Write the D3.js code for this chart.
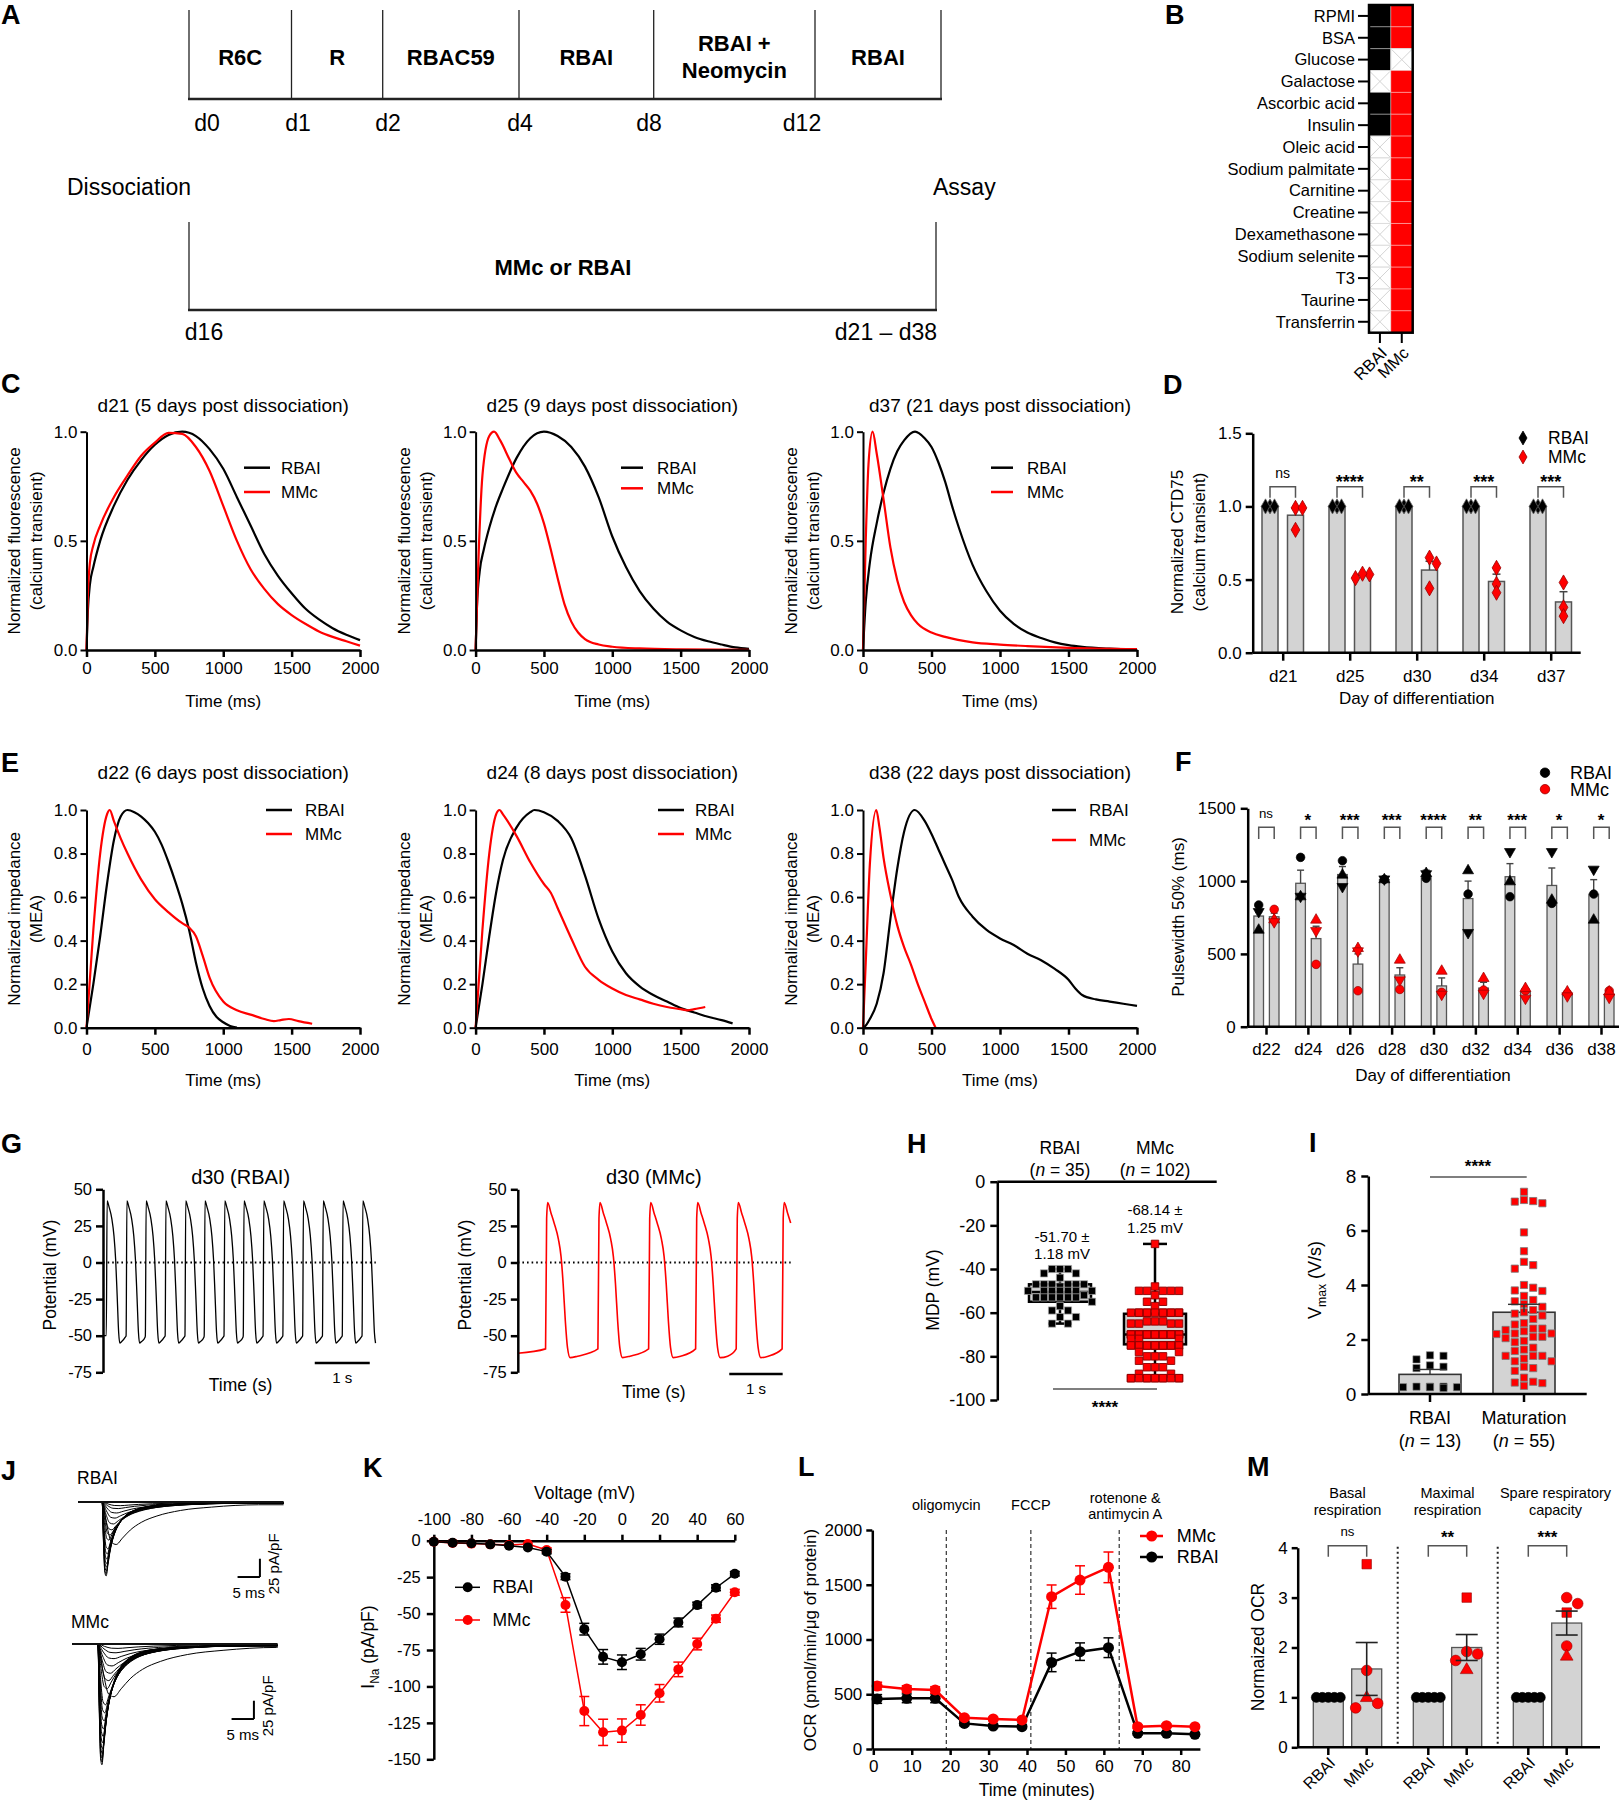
<!DOCTYPE html>
<html><head><meta charset="utf-8">
<script src="https://cdn.jsdelivr.net/npm/d3@7/dist/d3.min.js"></script>
<style>html,body{margin:0;padding:0;background:#fff}</style>
</head><body>
<svg id="fig" width="1620" height="1800" xmlns="http://www.w3.org/2000/svg"></svg>
<script>
// ======================= DATA =======================
// Panel A
const aStages = [['R6C'],['R'],['RBAC59'],['RBAI'],['RBAI +','Neomycin'],['RBAI']];
const aStageDays = ['d0','d1','d2','d4','d8','d12'];
const aPhases = ['Dissociation','Assay'];
const aPostMedium = 'MMc or RBAI';
const aPostDays = ['d16','d21 – d38'];

// Panel B
const bComponents = ['RPMI','BSA','Glucose','Galactose','Ascorbic acid','Insulin','Oleic acid','Sodium palmitate','Carnitine','Creatine','Dexamethasone','Sodium selenite','T3','Taurine','Transferrin'];
const bMedia = ['RBAI','MMc'];
const bInRBAI = [1,1,1,0,1,1,0,0,0,0,0,0,0,0,0];
const bInMMc  = [1,1,0,1,1,1,1,1,1,1,1,1,1,1,1];

// Shared
const seriesNames = ['RBAI','MMc'];
const traceXTicks = [0,500,1000,1500,2000];

// Panel C (calcium transients)
const cTitles = ['d21 (5 days post dissociation)','d25 (9 days post dissociation)','d37 (21 days post dissociation)'];
const cYLabel = ['Normalized fluorescence','(calcium transient)'];
const cYTicks = [0,0.5,1];
const cD21Time = [0,10,25,50,100,200,300,400,500,600,700,800,900,1000,1100,1200,1300,1400,1500,1600,1700,1800,1900,2000];
const cD21RBAI = [0,0.18,0.3,0.38,0.5,0.66,0.78,0.87,0.94,0.985,1.0,0.98,0.92,0.83,0.7,0.57,0.44,0.34,0.26,0.19,0.14,0.1,0.07,0.045];
const cD21MMc  = [0,0.25,0.4,0.48,0.57,0.7,0.8,0.89,0.95,0.995,0.99,0.93,0.82,0.66,0.5,0.37,0.28,0.21,0.16,0.12,0.085,0.06,0.04,0.02];
const cD25RBAITime = [0,10,30,60,100,150,200,300,400,500,600,700,800,900,1000,1100,1200,1300,1400,1500,1600,1700,1800,1900,2000];
const cD25RBAI = [0,0.2,0.36,0.46,0.56,0.66,0.74,0.88,0.97,1.0,0.98,0.93,0.84,0.7,0.52,0.38,0.27,0.19,0.13,0.09,0.06,0.04,0.025,0.012,0.005];
const cD25MMcTime = [0,20,50,100,135,180,250,300,350,400,450,500,550,600,650,700,750,800,900,1000,1200,1500,2000];
const cD25MMc = [0,0.4,0.8,0.98,1.0,0.96,0.87,0.81,0.77,0.73,0.67,0.58,0.46,0.33,0.21,0.13,0.08,0.05,0.025,0.015,0.007,0.003,0.001];
const cD37RBAITime = [0,20,50,100,150,200,250,300,380,450,500,550,600,650,700,800,900,1000,1100,1200,1300,1400,1500,1600,1800,2000];
const cD37RBAI = [0,0.22,0.4,0.58,0.72,0.83,0.91,0.96,1.0,0.97,0.93,0.86,0.77,0.66,0.56,0.39,0.27,0.18,0.12,0.08,0.055,0.035,0.022,0.014,0.006,0.002];
const cD37MMcTime = [0,20,40,70,100,150,200,250,300,350,400,500,600,800,1000,1200,1500,2000];
const cD37MMc = [0,0.5,0.85,1.0,0.9,0.69,0.47,0.32,0.22,0.16,0.12,0.08,0.06,0.035,0.025,0.018,0.01,0.004];

// Panel D
const dDays = ['d21','d25','d30','d34','d37'];
const dRBAIMean = [1,1,1,1,1];
const dMMcMean = [0.94,0.53,0.565,0.487,0.347];
const dMMcSEM = [0.05,0.01,0.06,0.05,0.07];
const dRBAIPts = [[1,1,1],[1,1,1],[1,1,1],[1,1,1],[1,1,1]];
const dMMcPts = [[0.99,0.99,0.84],[0.51,0.535,0.54],[0.65,0.61,0.44],[0.58,0.47,0.41],[0.48,0.31,0.25]];
const dSig = ['ns','****','**','***','***'];

// Panel E (impedance)
const eTitles = ['d22 (6 days post dissociation)','d24 (8 days post dissociation)','d38 (22 days post dissociation)'];
const eYLabel = ['Normalized impedance','(MEA)'];
const eYTicks = [0,0.2,0.4,0.6,0.8,1];
const eD22RBAITime = [0,50,100,150,200,250,300,350,400,450,500,550,600,650,700,750,800,850,900,950,1000,1050,1100];
const eD22RBAI = [0,0.2,0.42,0.66,0.86,0.97,1.0,0.99,0.97,0.94,0.9,0.84,0.76,0.67,0.57,0.45,0.3,0.18,0.1,0.05,0.025,0.008,0];
const eD22MMcTime = [0,50,100,150,170,200,250,300,400,500,600,700,750,800,850,900,1000,1100,1200,1300,1370,1420,1480,1550,1650];
const eD22MMc = [0,0.45,0.8,0.98,1.0,0.95,0.87,0.8,0.68,0.59,0.53,0.48,0.46,0.42,0.33,0.23,0.12,0.08,0.06,0.04,0.03,0.035,0.04,0.03,0.018];
const eD24RBAITime = [0,50,100,150,200,300,400,430,500,600,700,800,900,1000,1100,1200,1300,1400,1500,1600,1700,1800,1880];
const eD24RBAI = [0,0.2,0.42,0.62,0.77,0.92,0.99,1.0,0.99,0.95,0.87,0.7,0.5,0.35,0.25,0.19,0.15,0.12,0.09,0.07,0.05,0.035,0.02];
const eD24MMcTime = [0,50,100,150,175,200,300,400,500,550,600,700,800,900,1000,1100,1200,1300,1400,1500,1550,1600,1680];
const eD24MMc = [0,0.45,0.8,0.98,1.0,0.98,0.88,0.76,0.66,0.62,0.55,0.41,0.28,0.22,0.18,0.15,0.13,0.11,0.095,0.085,0.08,0.085,0.095];
const eD38RBAITime = [0,20,50,100,150,200,250,300,378,450,500,550,600,650,700,800,900,1000,1100,1200,1300,1400,1500,1550,1600,1700,1800,1900,2000];
const eD38RBAI = [0,0.01,0.04,0.11,0.25,0.5,0.73,0.9,1.0,0.95,0.89,0.82,0.75,0.68,0.6,0.51,0.45,0.41,0.38,0.34,0.31,0.27,0.22,0.18,0.15,0.13,0.12,0.11,0.1];
const eD38MMcTime = [0,20,50,97,120,150,200,250,300,350,400,450,500,530];
const eD38MMc = [0,0.3,0.75,1.0,0.92,0.78,0.61,0.47,0.37,0.29,0.2,0.12,0.04,0];

// Panel F
const fDays = ['d22','d24','d26','d28','d30','d32','d34','d36','d38'];
const fRBAIMean = [760,985,1045,1010,1030,880,1030,970,910];
const fRBAISEM = [25,90,55,8,45,120,90,120,100];
const fMMcMean = [755,605,430,355,280,265,240,228,222];
const fMMcSEM = [25,85,70,50,55,40,15,8,12];
const fShapes = ['circle','triangle','tridown'];
const fRBAIPts = [[836,664,790],[1163,893,895],[1140,1042,962],[1012,1010,1014],[1019,1053,1050],[911,1072,646],[893,996,1202],[847,870,1202],[911,733,1081]];
const fMMcPts = [[806,735,720],[428,733,659],[247,538,520],[256,458,321],[236,382,222],[252,332,229],[247,263,195],[229,240,211],[247,240,201]];
const fSig = ['ns','*','***','***','****','**','***','*','*'];

// Panel G (action potentials)
const gTitles = ['d30 (RBAI)','d30 (MMc)'];
const gYTicks = [-75,-50,-25,0,25,50];
const gRBAIBeats = [0.06,0.42,0.77,1.13,1.49,1.84,2.2,2.55,2.91,3.27,3.63,3.99,4.35,4.71];
const gRBAIShapeT = [0,0.015,0.05,0.1,0.14,0.17,0.2,0.225,0.245,0.28,0.345];
const gRBAIShapeV = [-50,42,38,30,18,2,-25,-48,-55,-54,-51];
const gRBAIRecord = [0,4.96,-50];
const gMMcBeats = [0.52,1.5,2.45,3.33,4.09,4.95];
const gMMcShapeT = [0,0.02,0.04,0.1,0.16,0.24,0.29,0.33,0.37,0.41,0.46,0.6];
const gMMcShapeV = [-59,30,41,34,27,16,4,-15,-40,-58,-65,-64];
const gMMcRecord = [0,5.11,-62];

// Panel H
const hGroups = ['RBAI','MMc'];
const hN = [35,102];
const hRBAI = [-40,-40,-40,-42,-42,-44,-47,-47,-47,-47,-47,-47,-48,-50,-50,-50,-50,-50,-50,-50,-52,-53,-53,-53,-53,-53,-53,-55,-57,-59,-59,-62,-62,-65,-65];
const hMMc = [-28.5,-48,-50,-50,-50,-50,-50,-52,-55,-55,-57,
  -60,-60,-60,-60,-60,-60,-60,-60,-60,-60,-60,-60,-64,-64,-64,-65,-65,-65,-65,
  -70,-70,-70,-70,-70,-70,-70,-70,-70,-70,-70,-70,-70,-70,-70,-70,-70,-70,-70,-70,-70,-70,-70,-70,-70,-72,-72,-72,
  -75,-75,-75,-75,-75,-75,-75,-75,-75,-75,-75,-75,-75,-75,-75,-75,-75,-75,-75,-75,
  -78,-78,-80,-80,-80,-82,-82,-85,-85,-85,-88,-88,
  -90,-90,-90,-90,-90,-90,-90,-90,-90,-90,-90,-90];
const hBoxRBAI = [-65,-55,-50.5,-47,-40];
const hBoxMMc = [-90,-74.5,-70,-60.5,-28.5];
const hMeanText = [['-51.70 ±','1.18 mV'],['-68.14 ±','1.25 mV']];
const hYTicks = [-100,-80,-60,-40,-20,0];

// Panel I
const iGroups = ['RBAI','Maturation'];
const iN = [13,55];
const iMean = [0.72,3.0];
const iSEM = [0.18,0.29];
const iRBAI = [1.4,1.42,1.27,1.0,0.95,1.05,0.25,0.27,0.27,0.27,0.25,0.22,0.25];
const iMat = [7.42,7.12,7.08,7.06,7.0,5.93,5.24,4.85,4.73,4.6,4.0,3.9,3.8,3.78,3.6,3.45,3.4,3.3,3.2,3.08,3.0,2.95,2.88,2.75,2.6,
  2.55,2.4,2.4,2.35,2.3,2.22,2.22,2.2,2.1,2.1,2.05,1.95,1.9,1.7,1.63,1.58,1.4,1.4,1.4,1.3,1.2,1.2,1.0,0.95,0.85,0.6,0.45,0.42,0.4,0.3];
const iYTicks = [0,2,4,6,8];

// Panel J (Na current families)
const jShapeT = [0,0.3,0.6,0.9,1.3,1.8,2.5,3.5,5,7,10,14,20,28,40];
const jShapeV = [0,0.55,0.95,1.0,0.85,0.66,0.48,0.33,0.2,0.12,0.065,0.04,0.025,0.016,0.012];
const jRBAIPeaks = [101,98,94,89,84,78,71,64,58,52,45,38,30,22,15,9,5];
const jRBAIWidth = [1.0,1.0,1.05,1.1,1.15,1.2,1.3,1.45,3.5,1.7,2.0,2.4,2.8,3.2,3.6,4.0,4.5];
const jMMcPeaks = [165,161,156,150,143,135,126,116,105,94,83,72,61,50,40,30,20,12,6];
const jMMcWidth = [1.0,1.0,1.05,1.1,1.15,1.2,1.3,1.4,1.55,1.7,1.9,4.0,2.3,2.7,3.1,3.5,4.0,4.5,5.0];
const jOnset = [5.4,5.8];

// Panel K (I-V)
const kVolt = [-100,-90,-80,-70,-60,-50,-40,-30,-20,-10,0,10,20,30,40,50,60];
const kRBAI = [-0.7,-1.4,-1.8,-2.5,-3.4,-4.6,-7.5,-24.7,-60.7,-79.7,-83.4,-77.9,-67.6,-56.1,-44.2,-32.3,-22.7];
const kRBAIErr = [0.5,0.5,0.5,0.5,0.8,1,1.5,2,4,5,5,4,3.5,3,2,2,1.5];
const kMMc = [-0.7,-1.5,-2,-2.5,-3,-2.3,-6.4,-44.1,-116.9,-131.5,-130.3,-119.6,-104.7,-88.3,-70.9,-53.5,-35.4];
const kMMcErr = [0.5,0.5,0.5,0.5,0.5,1,1.5,5,10,9,8,7,6,5,4,2.5,2];
const kXTicks = [-100,-80,-60,-40,-20,0,20,40,60];
const kYTicks = [-150,-125,-100,-75,-50,-25,0];

// Panel L (Seahorse OCR)
const lTime = [1.0,8.7,16.1,23.7,31.2,38.7,46.4,53.8,61.2,68.8,76.3,83.7];
const lMMc = [575,548,539,286,274,265,1391,1543,1659,204,213,204];
const lMMcErr = [35,30,30,15,15,15,107,130,140,15,15,15];
const lRBAI = [457,463,463,234,210,204,791,889,925,143,143,134];
const lRBAIErr = [40,40,40,20,15,15,85,80,90,15,15,15];
const lInjections = [19,41,64];
const lInjLabels = [['oligomycin'],['FCCP'],['rotenone &','antimycin A']];
const lXTicks = [0,10,20,30,40,50,60,70,80];
const lYTicks = [0,500,1000,1500,2000];

// Panel M
const mMeasures = [['Basal','respiration'],['Maximal','respiration'],['Spare respiratory','capacity']];
const mRBAIMean = [1,1,1];
const mRBAIPts = [[1,1,1,1,1],[1,1,1,1,1],[1,1,1,1,1]];
const mMMcMean = [1.57,2.0,2.49];
const mMMcSEM = [0.53,0.26,0.24];
const mMMcPts = [[3.67,1.54,0.99,0.79,0.88],[3.0,1.87,1.92,1.74,1.55],[3.0,2.88,2.7,2.03,1.82]];
const mMMcShapes = [['square','circle','triangle','circle','circle'],['square','circle','circle','circle','triangle'],['circle','circle','square','circle','triangle']];
const mSig = ['ns','**','***'];
const mYTicks = [0,1,2,3,4];

// ======================= DRAWING =======================
const FONT = "'Liberation Sans', Arial, Helvetica, sans-serif";
const RED = '#ff0000', BAR = '#d3d3d3';
const fmtPlain = d => String(d);
const svg = d3.select('#fig').attr('font-family', FONT);
svg.append('rect').attr('width',1620).attr('height',1800).attr('fill','#fff');

function T(g,x,y,s,size,o={}){
  const t=g.append('text').attr('x',x).attr('y',y+0.35*size).attr('font-size',size)
    .attr('text-anchor',o.anchor||'middle').attr('fill',o.fill||'#000').text(s);
  if(o.bold) t.attr('font-weight','bold');
  if(o.rot) t.attr('transform',`rotate(${o.rot},${x},${y})`);
  return t;
}
function S(g,x,y,s,size){
  if(s==='ns') return T(g,x,y,s,size*0.78);
  return g.append('text').attr('x',x).attr('y',y+0.6*size).attr('font-size',size).attr('font-weight','bold').attr('text-anchor','middle').text(s);
}
function nLabel(g,x,y,n,size){
  const t=g.append('text').attr('x',x).attr('y',y+0.35*size).attr('font-size',size).attr('text-anchor','middle');
  t.append('tspan').text('(');
  t.append('tspan').attr('font-style','italic').text('n');
  t.append('tspan').text(` = ${n})`);
}
function subLabel(g,x,y,main,sub,rest,size,rot){
  const t=g.append('text').attr('x',x).attr('y',y+0.35*size).attr('font-size',size).attr('text-anchor','middle');
  if(rot) t.attr('transform',`rotate(${rot},${x},${y})`);
  t.append('tspan').text(main);
  t.append('tspan').attr('font-size',size*0.68).attr('dy',size*0.28).text(sub);
  t.append('tspan').attr('dy',-size*0.28).text(rest);
}
function axis(g,gen,tx,ty,size,sw){
  const a=g.append('g').attr('transform',`translate(${tx},${ty})`).call(gen);
  a.attr('font-family',FONT).attr('font-size',size);
  a.selectAll('path.domain').attr('stroke','#000').attr('stroke-width',sw);
  a.selectAll('.tick line').attr('stroke','#000').attr('stroke-width',sw);
  a.selectAll('.tick text').attr('fill','#000');
  return a;
}
function line(g,x1,y1,x2,y2,col,w,dash){
  const l=g.append('line').attr('x1',x1).attr('y1',y1).attr('x2',x2).attr('y2',y2).attr('stroke',col).attr('stroke-width',w);
  if(dash) l.attr('stroke-dasharray',dash);
  return l;
}
function pathLine(g,xs,ys,x,y,col,w,curve){
  g.append('path').datum(xs.map((t,i)=>[t,ys[i]])).attr('fill','none').attr('stroke',col).attr('stroke-width',w)
    .attr('stroke-linejoin','round').attr('d',d3.line().x(d=>x(d[0])).y(d=>y(d[1])).curve(curve||d3.curveMonotoneX));
}
function symPath(type,size){
  const map={circle:d3.symbolCircle,square:d3.symbolSquare,triangle:d3.symbolTriangle,tridown:d3.symbolTriangle,diamond:d3.symbolDiamond};
  return d3.symbol(map[type],size)();
}
function mark(g,type,x,y,size,fill,stroke,sw){
  const p=g.append('path').attr('d',symPath(type,size)).attr('fill',fill).attr('stroke',stroke).attr('stroke-width',sw||0.8);
  p.attr('transform',`translate(${x},${y})`+(type==='tridown'?' rotate(180)':''));
  return p;
}
// deterministic dot-plot layout (dodge into fixed columns)
function swarm(values,yS,cx,dx,minDy,maxK){
  const pts=values.map((v,i)=>({v,i,y:yS(v)})).sort((a,b)=>a.y-b.y||a.i-b.i);
  const placed=[];
  const offs=[0];
  for(let k=1;k<=maxK;k++){offs.push(k);offs.push(-k);}
  pts.forEach(p=>{
    let best=null,bestC=1e9;
    for(const o of offs){
      const x=cx+o*dx;
      const c=placed.filter(q=>Math.abs(q.x-x)<dx*0.9&&Math.abs(q.y-p.y)<minDy).length;
      if(c<bestC){bestC=c;best=x;}
      if(c===0)break;
    }
    p.x=best;placed.push(p);
  });
  return pts.sort((a,b)=>a.i-b.i);
}
function bracket(g,x1,x2,yTop,yBot){
  g.append('path').attr('d',`M${x1},${yBot}V${yTop}H${x2}V${yBot}`).attr('fill','none').attr('stroke','#555').attr('stroke-width',1.5);
}

// ---------- Panel letters ----------
const letterPos = {A:[1,15],B:[1165,15],C:[1,384],D:[1163,385],E:[1,763],F:[1175,762],G:[1,1144],H:[907,1144],I:[1309,1143],J:[1,1471],K:[363,1468],L:[798,1467],M:[1247,1467]};
Object.entries(letterPos).forEach(([k,p])=>T(svg,p[0],p[1],k,27,{bold:true,anchor:'start'}));

// ---------- Panel A ----------
(function(){
  const g=svg.append('g');
  const edges=[189,291.5,382.7,519,653.7,815,941];
  const dayX=[207,298,388,520,649,802];
  edges.forEach(x=>line(g,x,10,x,99,'#222',1.3));
  line(g,188,99,942,99,'#222',2.6);
  aStages.forEach((lab,i)=>{
    const cx=(edges[i]+edges[i+1])/2;
    if(lab.length===1) T(g,cx,57,lab[0],22,{bold:true});
    else {T(g,cx,43,lab[0],22,{bold:true});T(g,cx,70,lab[1],22,{bold:true});}
  });
  aStageDays.forEach((d,i)=>T(g,dayX[i],123,d,23));
  T(g,129,187,aPhases[0],23);
  T(g,933,187,aPhases[1],23,{anchor:'start'});
  line(g,189,222,189,310,'#222',1.3);
  line(g,936,222,936,310,'#222',1.3);
  line(g,188,310,937,310,'#222',2.6);
  T(g,563,267,aPostMedium,22,{bold:true});
  T(g,204,332,aPostDays[0],23);
  T(g,886,332,aPostDays[1],23);
})();

// ---------- Panel B ----------
(function(){
  const g=svg.append('g');
  const y=d3.scaleBand().domain(bComponents).range([5,332.7]);
  const x=d3.scaleBand().domain(bMedia).range([1369,1412.7]);
  const bw=x.bandwidth(), bh=y.bandwidth();
  bComponents.forEach((c,i)=>{
    bMedia.forEach((m,j)=>{
      const on=(j===0?bInRBAI:bInMMc)[i];
      const x0=x(m), y0=y(c);
      g.append('rect').attr('x',x0).attr('y',y0).attr('width',bw).attr('height',bh)
        .attr('fill',on?(j===0?'#000':RED):'#fff').attr('stroke',on?'rgba(255,255,255,0.35)':'#ddd').attr('stroke-width',1);
      if(!on){
        line(g,x0+1,y0+1,x0+bw-1,y0+bh-1,'#d4d4d4',1);
        line(g,x0+bw-1,y0+1,x0+1,y0+bh-1,'#d4d4d4',1);
      }
    });
    line(g,1358,y(c)+bh/2,1369,y(c)+bh/2,'#000',2);
    T(g,1355,y(c)+bh/2,c,16.5,{anchor:'end'});
  });
  g.append('rect').attr('x',1369).attr('y',5).attr('width',43.7).attr('height',327.7).attr('fill','none').attr('stroke','#000').attr('stroke-width',2.5);
  bMedia.forEach(m=>{
    const cx=x(m)+bw/2;
    line(g,cx,333,cx,343,'#000',2);
    T(g,cx+4,350,m,16.5,{anchor:'end',rot:-45});
  });
})();

// ---------- Panels C & E ----------
function tracePanel(c){
  const g=svg.append('g');
  const x=d3.scaleLinear().domain([0,2000]).range([c.x0,c.x1]);
  const y=d3.scaleLinear().domain([0,1]).range([c.yBot,c.yTop]);
  c.series.forEach(s=>pathLine(g,s.t,s.v,x,y,s.color,2.2));
  axis(g,d3.axisBottom(x).tickValues(traceXTicks).tickFormat(fmtPlain).tickSize(7).tickSizeOuter(0).tickPadding(c.xPad),0,c.yBot,17,2.5);
  axis(g,d3.axisLeft(y).tickValues(c.yTicks).tickFormat(d3.format('.1f')).tickSize(6).tickSizeOuter(0).tickPadding(3),c.x0,0,17,2);
  const cx=(c.x0+c.x1)/2, cy=(c.yTop+c.yBot)/2;
  T(g,cx,c.titleY,c.title,19);
  T(g,c.x0-72,cy,c.ylab[0],17,{rot:-90});
  T(g,c.x0-50,cy,c.ylab[1],17,{rot:-90});
  T(g,cx,c.xlabY,'Time (ms)',17);
  c.series.forEach((s,i)=>{
    line(g,c.leg[0],c.legY[i],c.leg[1],c.legY[i],s.color,2.5);
    T(g,c.leg[2],c.legY[i],seriesNames[i],17,{anchor:'start'});
  });
}
const xs3=[[86.5,360],[475.6,749],[863,1137]];
const cSeries=[
  [{t:cD21Time,v:cD21RBAI,color:'#000'},{t:cD21Time,v:cD21MMc,color:RED}],
  [{t:cD25RBAITime,v:cD25RBAI,color:'#000'},{t:cD25MMcTime,v:cD25MMc,color:RED}],
  [{t:cD37RBAITime,v:cD37RBAI,color:'#000'},{t:cD37MMcTime,v:cD37MMc,color:RED}]];
const cLeg=[[244,270,281],[621,643,657],[991,1013,1027]];
const cLegY=[[467.7,492],[467.7,488.3],[467.7,492]];
cTitles.forEach((tt,i)=>tracePanel({x0:xs3[i][0],x1:xs3[i][1],yTop:431.7,yBot:650,yTicks:cYTicks,title:tt,titleY:405,
  ylab:cYLabel,xlabY:701,xPad:5,series:cSeries[i],leg:cLeg[i],legY:cLegY[i]}));
const eSeries=[
  [{t:eD22RBAITime,v:eD22RBAI,color:'#000'},{t:eD22MMcTime,v:eD22MMc,color:RED}],
  [{t:eD24RBAITime,v:eD24RBAI,color:'#000'},{t:eD24MMcTime,v:eD24MMc,color:RED}],
  [{t:eD38RBAITime,v:eD38RBAI,color:'#000'},{t:eD38MMcTime,v:eD38MMc,color:RED}]];
const eLeg=[[266,292,305],[658,684,695],[1052,1076,1089]];
const eLegY=[[810,834],[810,834],[810,840]];
eTitles.forEach((tt,i)=>tracePanel({x0:xs3[i][0],x1:xs3[i][1],yTop:810,yBot:1027.7,yTicks:eYTicks,title:tt,titleY:772,
  ylab:eYLabel,xlabY:1080,xPad:8,series:eSeries[i],leg:eLeg[i],legY:eLegY[i]}));

// ---------- Panel D ----------
(function(){
  const g=svg.append('g');
  const x=d3.scalePoint().domain(dDays).range([1282.7,1550.7]);
  const y=d3.scaleLinear().domain([0,1.5]).range([652.7,433.3]);
  const off=[-12.7,12.8], bw=16;
  [dRBAIMean,dMMcMean].forEach((means,s)=>{
    dDays.forEach((d,i)=>{
      const cx=x(d)+off[s];
      g.append('rect').attr('x',cx-bw/2).attr('width',bw).attr('y',y(means[i])).attr('height',y(0)-y(means[i]))
        .attr('fill',BAR).attr('stroke','#555').attr('stroke-width',1.5);
      if(s===1){
        line(g,cx,y(means[i]),cx,y(means[i]+dMMcSEM[i]),'#444',1.5);
        line(g,cx-4,y(means[i]+dMMcSEM[i]),cx+4,y(means[i]+dMMcSEM[i]),'#444',1.5);
      }
      const pts=(s===0?dRBAIPts:dMMcPts)[i];
      swarm(pts,y,cx,s===0?4.5:7,7,2).forEach(p=>mark(g,'diamond',p.x,p.y,66,s===0?'#000':RED,s===0?'#666':'#900',0.8));
    });
  });
  dDays.forEach((d,i)=>{
    bracket(g,x(d)+off[0],x(d)+off[1],486.7,497.7);
    S(g,x(d),dSig[i]==='ns'?473:477,dSig[i],18);
  });
  const ax=axis(g,d3.axisBottom(x).tickSize(8).tickPadding(9).tickSizeOuter(0),0,652.7,17,2.5);
  ax.select('path.domain').remove();
  line(g,1252.7,652.7,1580.7,652.7,'#000',2.5);
  axis(g,d3.axisLeft(y).tickValues([0,0.5,1,1.5]).tickFormat(d3.format('.1f')).tickSize(7).tickPadding(4).tickSizeOuter(0),1252.7,0,17,2.5);
  T(g,1416.7,698,'Day of differentiation',17);
  T(g,1177,542,'Normalized CTD75',17,{rot:-90});
  T(g,1199,542,'(calcium transient)',17,{rot:-90});
  seriesNames.forEach((n,i)=>{
    mark(g,'diamond',1523,438+i*19,55,i===0?'#000':RED,i===0?'#000':'#900',0.8);
    T(g,1548,438+i*19,n,17.5,{anchor:'start'});
  });
})();

// ---------- Panel F ----------
(function(){
  const g=svg.append('g');
  const x=d3.scalePoint().domain(fDays).range([1266,1601]);
  const y=d3.scaleLinear().domain([0,1500]).range([1026.7,808.3]);
  const off=[-7.3,8.2], bw=9.6;
  [[fRBAIMean,fRBAISEM,fRBAIPts],[fMMcMean,fMMcSEM,fMMcPts]].forEach(([m,e,pts],s)=>{
    fDays.forEach((d,i)=>{
      const cx=x(d)+off[s];
      g.append('rect').attr('x',cx-bw/2).attr('width',bw).attr('y',y(m[i])).attr('height',y(0)-y(m[i]))
        .attr('fill',BAR).attr('stroke','#555').attr('stroke-width',1.3);
      line(g,cx,y(m[i]),cx,y(m[i]+e[i]),'#444',1.4);
      line(g,cx-3.5,y(m[i]+e[i]),cx+3.5,y(m[i]+e[i]),'#444',1.4);
      pts[i].forEach((v,k)=>mark(g,fShapes[k],cx,y(v),k===0?58:52,s===0?'#000':RED,s===0?'#000':'#900',0.7));
    });
  });
  fDays.forEach((d,i)=>{
    bracket(g,x(d)+off[0],x(d)+off[1],827.3,839);
    S(g,x(d),fSig[i]==='ns'?813:816,fSig[i],17);
  });
  const ax=axis(g,d3.axisBottom(x).tickSize(8).tickPadding(8).tickSizeOuter(0),0,1026.7,17,2.5);
  ax.select('path.domain').remove();
  line(g,1247.7,1026.7,1619,1026.7,'#000',2.5);
  axis(g,d3.axisLeft(y).tickValues([0,500,1000,1500]).tickFormat(fmtPlain).tickSize(7).tickPadding(5).tickSizeOuter(0),1247.7,0,17,2.5);
  T(g,1433,1075,'Day of differentiation',17);
  T(g,1178,917,'Pulsewidth 50% (ms)',17,{rot:-90});
  seriesNames.forEach((n,i)=>{
    mark(g,'circle',1545,772.7+i*16.5,70,i===0?'#000':RED,i===0?'#000':'#900',0.8);
    T(g,1570,772.7+i*16.5,n,18,{anchor:'start'});
  });
})();

// ---------- Panel G ----------
function buildAP(beats,shT,shV,rec){
  const pts=[[rec[0],rec[2]]];
  beats.forEach((b,i)=>{
    const next=i<beats.length-1?beats[i+1]:Infinity;
    shT.forEach((dt,k)=>{const t=b+dt; if(t<next-1e-6&&t<=rec[1]) pts.push([t,shV[k]]);});
  });
  return pts;
}
function apPanel(c){
  const g=svg.append('g');
  const x=d3.scaleLinear().domain([0,c.rec[1]]).range([c.x0,c.x0+c.rec[1]*c.pxs]);
  const y=d3.scaleLinear().domain([-75,50]).range([1372.3,1189.3]);
  line(g,c.x0,y(0),x(c.rec[1]),y(0),'#000',2,'1.6,3');
  const pts=buildAP(c.beats,c.shT,c.shV,c.rec);
  g.append('path').datum(pts).attr('fill','none').attr('stroke',c.color).attr('stroke-width',c.sw)
    .attr('d',d3.line().x(d=>x(d[0])).y(d=>y(d[1])).curve(d3.curveMonotoneX));
  axis(g,d3.axisLeft(y).tickValues(gYTicks).tickFormat(fmtPlain).tickSize(7).tickPadding(4).tickSizeOuter(0),c.x0,0,16.5,2.5);
  T(g,c.titleX,1177,c.title,20);
  T(g,c.x0-53,1275,'Potential (mV)',17.5,{rot:-90});
  T(g,c.titleX,c.timeY,'Time (s)',17.5);
  line(g,x(c.bar),c.barY,x(c.bar+1),c.barY,'#000',2.5);
  T(g,(x(c.bar)+x(c.bar+1))/2,c.barY+15,'1 s',15);
}
apPanel({x0:103,pxs:55,rec:gRBAIRecord,beats:gRBAIBeats,shT:gRBAIShapeT,shV:gRBAIShapeV,color:'#000',sw:1.3,title:gTitles[0],titleX:240.6,timeY:1385,bar:3.85,barY:1363});
apPanel({x0:517.8,pxs:53.4,rec:gMMcRecord,beats:gMMcBeats,shT:gMMcShapeT,shV:gMMcShapeV,color:RED,sw:1.6,title:gTitles[1],titleX:653.8,timeY:1392,bar:3.96,barY:1374});

// ---------- Panel H ----------
(function(){
  const g=svg.append('g');
  const y=d3.scaleLinear().domain([-100,0]).range([1400,1181.7]);
  const centers=[1060,1155];
  [hBoxRBAI,hBoxMMc].forEach((b,i)=>{
    const cx=centers[i];
    line(g,cx,y(b[0]),cx,y(b[4]),'#000',2.5);
    line(g,cx-12,y(b[0]),cx+12,y(b[0]),'#000',2.5);
    line(g,cx-12,y(b[4]),cx+12,y(b[4]),'#000',2.5);
    g.append('rect').attr('x',cx-31).attr('width',62).attr('y',y(b[3])).attr('height',y(b[1])-y(b[3]))
      .attr('fill',BAR).attr('stroke','#000').attr('stroke-width',2.5);
    line(g,cx-31,y(b[2]),cx+31,y(b[2]),'#000',2.5);
  });
  swarm(hRBAI,y,centers[0],8,7,4).forEach(p=>mark(g,'square',p.x,p.y,52,'#000','#aaa',0.7));
  swarm(hMMc,y,centers[1],8,7,3).forEach(p=>mark(g,'square',p.x,p.y,56,RED,'#8b0000',0.9));
  axis(g,d3.axisLeft(y).tickValues(hYTicks).tickFormat(fmtPlain).tickSize(7).tickPadding(5).tickSizeOuter(0),997.3,0,18,2.5);
  line(g,997.3,y(0),1216.7,y(0),'#000',2.5);
  hGroups.forEach((n,i)=>{T(g,centers[i],1148,n,17.5); nLabel(g,centers[i],1170,hN[i],17.5);});
  T(g,1062,1237,hMeanText[0][0],15); T(g,1062,1254,hMeanText[0][1],15);
  T(g,1155,1210,hMeanText[1][0],15); T(g,1155,1228,hMeanText[1][1],15);
  line(g,1053,1389,1157,1389,'#555',1.3);
  S(g,1105,1403,'****',17);
  T(g,933,1290,'MDP (mV)',17.5,{rot:-90});
})();

// ---------- Panel I ----------
(function(){
  const g=svg.append('g');
  const y=d3.scaleLinear().domain([0,8]).range([1394,1176]);
  const centers=[1430,1524];
  iMean.forEach((m,i)=>{
    const cx=centers[i];
    g.append('rect').attr('x',cx-31).attr('width',62).attr('y',y(m)).attr('height',y(0)-y(m))
      .attr('fill',BAR).attr('stroke','#333').attr('stroke-width',1.6);
  });
  swarm(iRBAI,y,centers[0],13.5,7.5,2).forEach(p=>mark(g,'square',p.x,p.y,52,'#000','#888',0.6));
  swarm(iMat,y,centers[1],9.2,7.5,3).forEach(p=>mark(g,'square',p.x,p.y,52,RED,'#777',0.8));
  iMean.forEach((m,i)=>{
    const cx=centers[i];
    line(g,cx,y(m),cx,y(m+iSEM[i]),'#333',1.4);
    line(g,cx-16,y(m+iSEM[i]),cx+16,y(m+iSEM[i]),'#333',1.4);
  });
  axis(g,d3.axisLeft(y).tickValues(iYTicks).tickSize(7).tickPadding(5).tickSizeOuter(0),1368.3,0,19,2.5);
  line(g,1368.3,1394,1586.7,1394,'#000',2.5);
  iGroups.forEach((n,i)=>{
    line(g,centers[i],1394,centers[i],1402,'#000',2.5);
    T(g,centers[i],1418,n,18); nLabel(g,centers[i],1441,iN[i],18);
  });
  line(g,1430,1177,1526.7,1177,'#555',1.3);
  S(g,1478,1162,'****',17);
  subLabel(g,1315,1280,'V','max',' (V/s)',18,-90);
})();

// ---------- Panel J ----------
function currentFamily(c){
  const g=svg.append('g');
  const x=d3.scaleLinear().domain([0,46]).range([c.x0,c.x0+205.6]);
  const y=d3.scaleLinear().domain([0,-100]).range([c.base,c.base+73.2]);
  c.peaks.forEach((pk,i)=>{
    const pts=[[0,0],[c.onset,0]];
    jShapeT.forEach((dt,k)=>{const t=c.onset+dt*c.width[i]; if(dt>0&&t<=46) pts.push([t,-pk*jShapeV[k]]);});
    const last=pts[pts.length-1]; if(last[0]<46) pts.push([46,last[1]]);
    g.append('path').datum(pts).attr('fill','none').attr('stroke','#000').attr('stroke-width',1)
      .attr('d',d3.line().x(d=>x(d[0])).y(d=>y(d[1])).curve(d3.curveMonotoneX));
  });
  line(g,c.x0,c.base,c.x0+205.6,c.base,'#111',2);
  T(g,c.x0-1,c.labY,c.name,17.5,{anchor:'start'});
  // scale bars: 5 ms x 25 pA/pF
  const bx=x(40.7), by=y(-102.5);
  line(g,x(35.7),by,bx,by,'#000',2);
  line(g,bx,by,bx,y(-77.5),'#000',2);
  T(g,(x(35.7)+bx)/2,by+16,'5 ms',15);
  T(g,bx+14,(by+y(-77.5))/2-4,'25 pA/pF',15,{rot:-90});
}
currentFamily({x0:78,base:1502,onset:jOnset[0],peaks:jRBAIPeaks,width:jRBAIWidth,name:seriesNames[0],labY:1478});
currentFamily({x0:72,base:1644,onset:jOnset[1],peaks:jMMcPeaks,width:jMMcWidth,name:seriesNames[1],labY:1622});

// ---------- Panel K ----------
(function(){
  const g=svg.append('g');
  const x=d3.scaleLinear().domain([-100,60]).range([433.8,734.8]);
  const y=d3.scaleLinear().domain([-150,0]).range([1759.3,1540.7]);
  axis(g,d3.axisTop(x).tickValues(kXTicks).tickFormat(fmtPlain).tickSize(6).tickPadding(10).tickSizeOuter(0),0,1540.7,16.5,2.5);
  axis(g,d3.axisLeft(y).tickValues(kYTicks).tickFormat(fmtPlain).tickSize(7).tickPadding(6).tickSizeOuter(0),433.8,0,16.5,2.5);
  [[kMMc,kMMcErr,RED],[kRBAI,kRBAIErr,'#000']].forEach(([v,e,col])=>{
    pathLine(g,kVolt,v,x,y,col,1.5,d3.curveLinear);
    kVolt.forEach((vv,i)=>{
      if(e[i]>1.2){
        line(g,x(vv),y(v[i]-e[i]),x(vv),y(v[i]+e[i]),col,1.5);
        line(g,x(vv)-5,y(v[i]-e[i]),x(vv)+5,y(v[i]-e[i]),col,1.5);
        line(g,x(vv)-5,y(v[i]+e[i]),x(vv)+5,y(v[i]+e[i]),col,1.5);
      }
      g.append('circle').attr('cx',x(vv)).attr('cy',y(v[i])).attr('r',5).attr('fill',col);
    });
  });
  T(g,584.6,1493,'Voltage (mV)',17.5);
  subLabel(g,368,1647,'I','Na',' (pA/pF)',17.5,-90);
  seriesNames.forEach((n,i)=>{
    const col=i===0?'#000':RED, yy=i===0?1587.3:1620;
    line(g,455,yy,480,yy,col,1.5);
    g.append('circle').attr('cx',467.7).attr('cy',yy).attr('r',5).attr('fill',col);
    T(g,492.5,yy,n,17.5,{anchor:'start'});
  });
})();

// ---------- Panel L ----------
(function(){
  const g=svg.append('g');
  const x=d3.scaleLinear().domain([0,85]).range([873.3,873.3+85*3.8425]);
  const y=d3.scaleLinear().domain([0,2000]).range([1749,1530]);
  lInjections.forEach((t,i)=>{
    line(g,x(t),1530,x(t),1749,'#333',1.2,'4,3');
    const lab=lInjLabels[i];
    if(lab.length===1) T(g,x(t),1505,lab[0],14.5);
    else {T(g,x(t)+6,1497.7,lab[0],14.5);T(g,x(t)+6,1514.3,lab[1],14.5);}
  });
  [[lRBAI,lRBAIErr,'#000'],[lMMc,lMMcErr,RED]].forEach(([v,e,col])=>{
    pathLine(g,lTime,v,x,y,col,2.5,d3.curveLinear);
    lTime.forEach((t,i)=>{
      line(g,x(t),y(v[i]-e[i]),x(t),y(v[i]+e[i]),col,1.5);
      line(g,x(t)-5,y(v[i]-e[i]),x(t)+5,y(v[i]-e[i]),col,1.5);
      line(g,x(t)-5,y(v[i]+e[i]),x(t)+5,y(v[i]+e[i]),col,1.5);
      g.append('circle').attr('cx',x(t)).attr('cy',y(v[i])).attr('r',5.5).attr('fill',col);
    });
  });
  axis(g,d3.axisBottom(x).tickValues(lXTicks).tickFormat(fmtPlain).tickSize(6).tickPadding(5).tickSizeOuter(0),0,1749,17,2.5);
  axis(g,d3.axisLeft(y).tickValues(lYTicks).tickFormat(fmtPlain).tickSize(6).tickPadding(4).tickSizeOuter(0),872.3,0,17,2.5);
  T(g,1036.7,1790,'Time (minutes)',17.5);
  T(g,810,1640,'OCR (pmol/min/μg of protein)',17,{rot:-90});
  [['MMc',RED,1536],['RBAI','#000',1557]].forEach(([n,col,yy])=>{
    line(g,1140,yy,1163,yy,col,2.5);
    g.append('circle').attr('cx',1151.7).attr('cy',yy).attr('r',5.5).attr('fill',col);
    T(g,1176.7,yy,n,18,{anchor:'start'});
  });
})();

// ---------- Panel M ----------
(function(){
  const g=svg.append('g');
  const y=d3.scaleLinear().domain([0,4]).range([1747.3,1547.7]);
  const centers=[[1328.3,1366.7],[1428.3,1466.7],[1528.3,1566.7]];
  [1397.7,1497.7].forEach(xx=>line(g,xx,1546.7,xx,1747.3,'#222',2,'2,3'));
  mMeasures.forEach((lab,k)=>{
    const [c0,c1]=centers[k];
    [[mRBAIMean[k],c0],[mMMcMean[k],c1]].forEach(([m,cx])=>{
      g.append('rect').attr('x',cx-15).attr('width',30).attr('y',y(m)).attr('height',y(0)-y(m))
        .attr('fill',BAR).attr('stroke','#555').attr('stroke-width',1.3);
    });
    swarm(mRBAIPts[k],y,c0,6,10,2).forEach(p=>mark(g,'circle',p.x,p.y,80,'#000','#000',0.5));
    swarm(mMMcPts[k],y,c1,11,10,2).forEach(p=>mark(g,mMMcShapes[k][p.i],p.x,p.y,mMMcShapes[k][p.i]==='triangle'?70:90,RED,'#900',0.6));
    const m=mMMcMean[k], e=mMMcSEM[k];
    line(g,c1,y(m-e),c1,y(m+e),'#222',1.6);
    line(g,c1-11,y(m-e),c1+11,y(m-e),'#222',1.6);
    line(g,c1-11,y(m+e),c1+11,y(m+e),'#222',1.6);
    const hx=(c0+c1)/2;
    T(g,hx+(k===2?8:0),1493.3,lab[0],14.5);
    T(g,hx+(k===2?8:0),1510,lab[1],14.5);
    bracket(g,c0,c1,1545.7,1556.7);
    S(g,hx,mSig[k]==='ns'?1531.7:1533,mSig[k],17);
    [['RBAI',c0],['MMc',c1]].forEach(([n,cx])=>{
      line(g,cx,1747.3,cx,1755,'#000',2.5);
      T(g,cx+4,1760,n,16,{anchor:'end',rot:-45});
    });
  });
  axis(g,d3.axisLeft(y).tickValues(mYTicks).tickFormat(fmtPlain).tickSize(6).tickPadding(4).tickSizeOuter(0),1297.7,0,17,2.5);
  line(g,1297.7,1747.3,1600,1747.3,'#000',2.5);
  T(g,1258,1647,'Normaized OCR',17.5,{rot:-90});
})();
</script></body></html>
